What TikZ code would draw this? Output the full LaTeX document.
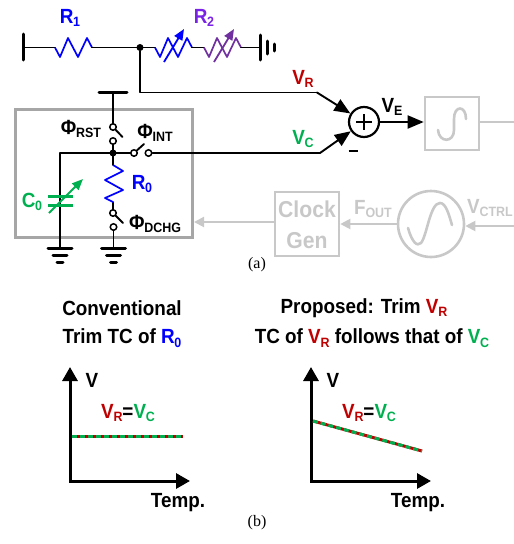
\documentclass[tikz,border=0pt]{standalone}
\usepackage{fontspec}
\setmainfont[FakeStretch=0.92]{Liberation Sans}
\newfontfamily\capfont{Liberation Serif}
\usetikzlibrary{arrows.meta,calc}
\definecolor{myblue}{HTML}{0000FF}
\definecolor{myviolet}{HTML}{7A22E6}
\definecolor{mypurple}{HTML}{7030A0}
\definecolor{mygreen}{HTML}{00B050}
\definecolor{myred}{HTML}{C00000}
\definecolor{lgray}{HTML}{C8C8C8}
\definecolor{mgray}{HTML}{A6A6A6}
\newcommand{\sized}[1]{\fontsize{#1}{#1}\selectfont\bfseries}
\newcommand{\sbs}[2]{#1\kern-0.01em\raisebox{-0.16em}{\fontsize{0.66em}{0.66em}\selectfont #2}}
\newcommand{\zzh}[3]{\draw[rzig,#1] (#2) -- ++(5,9.5) -- ++(8,-19) -- ++(10,19) -- ++(9,-19) -- (#3);}
\tikzset{
  wire/.style={line width=1.9pt,black,line cap=round,line join=round},
  rzig/.style={line width=1.7pt,line join=round},
  gbar/.style={line width=3pt,black,line cap=round},
  tipbig/.style={-{Triangle[length=16pt,width=13pt]}},
  tipgray/.style={-{Triangle[length=10pt,width=10pt]},line width=2pt,lgray},
  vartip/.style={-{Triangle[length=11pt,width=9pt]},line width=1.8pt},
  swc/.style={circle,draw=black,line width=1.5pt,fill=white,minimum size=6.5pt,inner sep=0pt},
  dotn/.style={circle,fill=black,minimum size=7pt,inner sep=0pt},
  lab/.style={inner sep=0pt,font=\sized{20.5}},
  graybox/.style={draw=lgray,line width=2.6pt,fill=none,inner sep=0pt},
  captxt/.style={inner sep=0pt,font=\capfont\fontsize{16}{16}\selectfont},
  axisarrow/.style={line width=3pt,black,-{Triangle[length=14pt,width=15pt]}},
}
\begin{document}
\begin{tikzpicture}[x=1pt,y=-1pt]
\useasboundingbox (0,0) rectangle (514,544);
% coordinates
\coordinate (vtop) at (23,47.5);
\coordinate (r1a) at (55,47.5);
\coordinate (r1b) at (92,47.5);
\node[dotn] (n1) at (140,47.5) {};
\coordinate (r2a) at (155,47.5);
\coordinate (r2b) at (192,47.5);
\coordinate (r3a) at (204,47.5);
\coordinate (r3b) at (241,47.5);
\coordinate (gnd1) at (260,47.5);
% outer box
\node[draw=mgray,line width=3pt,minimum width=177pt,minimum height=128pt,inner sep=0pt] (mainbox) at (104,173) {};
% gray blocks
\node[graybox,minimum width=54pt,minimum height=53pt] (integ) at (452,123.5) {};
\node[graybox,minimum width=64pt,minimum height=64pt] (clk) at (307,224) {};
\node[inner sep=0pt,text=lgray,font=\sized{23}] (clkt) at (307,209) {Clock};
\node[inner sep=0pt,text=lgray,font=\sized{23}] (gent) at (307,241) {Gen};
\node[circle,draw=lgray,line width=2.6pt,minimum size=66pt,inner sep=0pt] (vco) at (431,224) {};
\coordinate (rgt1) at (514,122);
\coordinate (rgt2) at (514,226);
\draw[line width=2pt,lgray] (integ.east |- rgt1) -- (rgt1);
\draw[tipgray] (rgt2) -- (vco.east |- rgt2);
\draw[tipgray] (vco.west) -- (clk.east);
\draw[tipgray] (clk.west |- 0,222) -- (mainbox.east |- 0,222);
\draw[line width=2.6pt,lgray,line cap=round] (438,130) .. controls (439,143) and (454,143) .. (454,130) -- (454,119) .. controls (454,105) and (466,105) .. (466,119);
\draw[line width=2.6pt,lgray,line cap=round] (408,228) .. controls (412,242) and (417,247) .. (421,243) .. controls (427,236) and (430,203) .. (440,203) .. controls (446,203) and (449,215) .. (452,225);
% top ladder
\draw[wire,line width=3pt] (23,34) -- (23,60);
\draw[wire] (vtop) -- (r1a);
\zzh{myblue}{r1a}{r1b}
\draw[wire] (r1b) -- (n1) -- (r2a);
\zzh{myblue}{r2a}{r2b}
\draw[wire] (r2b) -- (r3a);
\zzh{mypurple}{r3a}{r3b}
\draw[wire] (r3b) -- (gnd1);
\draw[vartip,myblue] (164,62) -- (184,29);
\draw[vartip,mypurple] (214,62) -- (234,29);
\draw[gbar] (260,35) -- (260,60);
\draw[gbar] (267,41) -- (267,54);
\draw[gbar] (274,44) -- (274,51);
% sum
\node[circle,draw=black,line width=2.2pt,fill=white,minimum size=30pt,inner sep=0pt] (sum) at (364,122) {};
\draw[line width=2.2pt] (356,122) -- (372,122) (364,114) -- (364,130);
\coordinate (vrk) at (317,92.5);
\coordinate (vck) at (320,153);
\draw[wire] (n1) |- (vrk);
\draw[wire,tipbig] (vrk) -- (sum.148);
\draw[line width=2.2pt,black] (348.5,151) -- (357.5,151);
% switches
\draw[gbar] (99,92) -- (127,92);
\coordinate (topst) at (113,92);
\coordinate (jl) at (60,153);
\coordinate (r0a) at (113,165);
\coordinate (r0b) at (113,202);
\coordinate (g1) at (60,248);
\coordinate (g2) at (113.5,248);
\draw[wire] (topst) -- (113,127);
\draw[wire] (113,141) -- (113,153);
\draw[wire] (jl) -- (148.5,153);
\draw[wire] (113,153) -- (r0a);
\draw[wire] (r0b) -- (113,213);
\draw[wire] (113.5,227) -- (g2);
\draw[wire] (jl) -- (g1);
\node[swc] (s1a) at (113,127) {};
\node[swc] (s1b) at (113,141) {};
\node[dotn] (j) at (113,153) {};
\fill[white] (137.5,150) rectangle (145,156);
\node[swc] (s2a) at (134,153) {};
\node[swc] (s2b) at (148.5,153) {};
\node[swc] (s3a) at (113,213) {};
\node[swc] (s3b) at (113.5,227) {};
\draw[wire] (s1a) -- ++(9.5,10);
\draw[wire] (s2a) -- ++(10,-9);
\draw[wire] (s2b) -- (vck);
\draw[wire,tipbig] (vck) -- (sum.215);
% R0
\draw[rzig,myblue] (r0a) -- (123,171) -- (105,180) -- (123,190) -- (105,198) -- (r0b);
\draw[wire] (s3a) -- ++(10,10);
% grounds
\foreach \g in {g1,g2}{
  \draw[gbar] ($(\g)+(-12,0)$) -- ($(\g)+(12,0)$);
  \draw[gbar] ($(\g)+(-7,7)$) -- ($(\g)+(7,7)$);
  \draw[gbar] ($(\g)+(-3,14)$) -- ($(\g)+(3,14)$);
}
% C0
\draw[line width=3pt,mygreen] (48,196) -- (73,196) (48,205) -- (73,205);
\draw[vartip,mygreen,line width=2pt] (49,213) -- (83,179);
% VE arrow
\draw[wire,tipbig] (sum.east) -- (integ.west |- sum.east);
% labels
\node[lab,text=myblue] (lr1) at (70,18) {\sbs{R}{1}};
\node[lab,text=myviolet] (lr2) at (204,18) {\sbs{R}{2}};
\node[lab,text=myred] (lvr) at (303,79) {\sbs{V}{R}};
\node[lab,text=mygreen] (lvc) at (303,139) {\sbs{V}{C}};
\node[lab,text=black] (lve) at (392,107) {\sbs{V}{E}};
\node[lab,text=black] (lrst) at (81,129) {\sbs{Φ}{RST}};
\node[lab,text=black] (lint) at (155,133) {\sbs{Φ}{INT}};
\node[lab,text=black] (ldc) at (155,224) {\sbs{Φ}{DCHG}};
\node[lab,text=myblue] (lr0) at (142,184) {\sbs{R}{0}};
\node[lab,text=mygreen] (lc0) at (32,202) {\sbs{C}{0}};
\node[lab,text=lgray] (lf) at (373,209) {\sbs{F}{OUT}};
\node[lab,text=lgray,anchor=west] (lct) at (467,208) {\sbs{V}{CTRL}};
\node[captxt] (ca) at (257,265) {(a)};
\node[captxt] (cb) at (257,523) {(b)};
% titles
\node[lab] (t1) at (122,308) {Conventional};
\node[lab] (t2) at (122,338) {Trim TC of \textcolor{myblue}{\sbs{R}{0}}};
\node[lab] (t3) at (364,308) {Proposed: Trim \textcolor{myred}{\sbs{V}{R}}};
\node[lab] (t4) at (372,338) {TC of \textcolor{myred}{\sbs{V}{R}} follows that of \textcolor{mygreen}{\sbs{V}{C}}};
% chart 1
\coordinate (o1) at (70,481);
\coordinate (y1) at (70,367);
\coordinate (x1) at (190,481);
\draw[axisarrow] ($(o1)+(0,1.5)$) -- (y1);
\draw[axisarrow] (o1) -- (x1);
\coordinate (la) at (72,436);
\coordinate (lb) at (183,436);
\draw[line width=3pt,myred] (la) -- (lb);
\draw[line width=3pt,mygreen,dash pattern=on 5pt off 3pt] (la) -- (lb);
\node[lab] (v1) at (92,380) {V};
\node[lab] (e1) at (128,413) {\textcolor{myred}{\sbs{V}{R}}=\textcolor{mygreen}{\sbs{V}{C}}};
\node[lab] (tt1) at (178,503) {Temp.};
% chart 2
\coordinate (o2) at (311,481);
\coordinate (y2) at (311,367);
\coordinate (x2) at (431,481);
\draw[axisarrow] ($(o2)+(0,1.5)$) -- (y2);
\draw[axisarrow] (o2) -- (x2);
\coordinate (lc) at (313,421);
\coordinate (ld) at (422,451);
\draw[line width=3pt,myred] (lc) -- (ld);
\draw[line width=3pt,mygreen,dash pattern=on 5pt off 3pt] (lc) -- (ld);
\node[lab] (v2) at (333,380) {V};
\node[lab] (e2) at (369,413) {\textcolor{myred}{\sbs{V}{R}}=\textcolor{mygreen}{\sbs{V}{C}}};
\node[lab] (tt2) at (418,503) {Temp.};
\end{tikzpicture}
\end{document}
